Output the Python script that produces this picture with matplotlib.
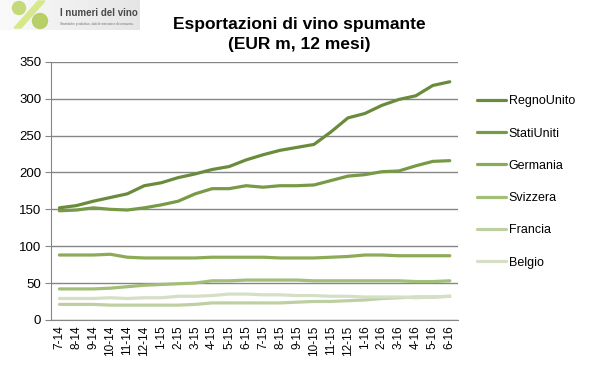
import numpy as np
import matplotlib
matplotlib.use("Agg")
import matplotlib.pyplot as plt
from matplotlib.patches import Circle, Polygon

months = ["7-14", "8-14", "9-14", "10-14", "11-14", "12-14",
          "1-15", "2-15", "3-15", "4-15", "5-15", "6-15",
          "7-15", "8-15", "9-15", "10-15", "11-15", "12-15",
          "1-16", "2-16", "3-16", "4-16", "5-16", "6-16"]

regno_unito = [152, 155, 161, 166, 171, 182, 186, 193, 198, 204, 208, 217,
               224, 230, 234, 238, 255, 274, 280, 291, 299, 304, 318, 323]
stati_uniti = [148, 149, 152, 150, 149, 152, 156, 161, 171, 178, 178, 182,
               180, 182, 182, 183, 189, 195, 197, 201, 202, 209, 215, 216]
germania = [88, 88, 88, 89, 85, 84, 84, 84, 84, 85, 85, 85,
            85, 84, 84, 84, 85, 86, 88, 88, 87, 87, 87, 87]
svizzera = [42, 42, 42, 43, 45, 47, 48, 49, 50, 53, 53, 54,
            54, 54, 54, 53, 53, 53, 53, 53, 53, 52, 52, 53]
francia = [21, 21, 21, 20, 20, 20, 20, 20, 21, 23, 23, 23,
           23, 23, 24, 25, 25, 26, 27, 29, 30, 31, 31, 32]
belgio = [29, 29, 29, 30, 29, 30, 30, 32, 32, 33, 35, 35,
          34, 34, 33, 33, 32, 32, 31, 31, 31, 30, 31, 32]

series = [("RegnoUnito", regno_unito, "#6b8b3c"),
          ("StatiUniti", stati_uniti, "#789a47"),
          ("Germania", germania, "#8dab57"),
          ("Svizzera", svizzera, "#a3be78"),
          ("Francia", francia, "#bed0a2"),
          ("Belgio", belgio, "#d4dfc5")]

plt.rcParams['font.family'] = ['Liberation Sans', 'DejaVu Sans']

fig = plt.figure(figsize=(5.99, 3.75), dpi=100)
ax = fig.add_axes([0.085, 0.147, 0.68, 0.688])

x = np.arange(len(months))
for name, vals, col in series:
    ax.plot(x, vals, color=col, lw=2.3, label=name, solid_capstyle='round')

ax.set_xlim(-0.5, len(months) - 0.5)
ax.set_ylim(0, 350)
ax.set_yticks(range(0, 351, 50))
ax.set_xticks(x)
ax.set_xticklabels(months, rotation=90, fontsize=8.5)
ax.tick_params(axis='y', labelsize=9.5, length=4, color='#868686', pad=3)
ax.tick_params(axis='x', length=0, pad=4)
ax.grid(axis='y', color='#868686', lw=1)
ax.set_axisbelow(True)
for s in ['top', 'right']:
    ax.spines[s].set_visible(False)
for s in ['left', 'bottom']:
    ax.spines[s].set_color('#868686')

leg = ax.legend(loc='upper left', bbox_to_anchor=(1.035, 0.89), frameon=False,
                fontsize=9, handlelength=2.3, handletextpad=0.2,
                labelspacing=1.62, borderaxespad=0)

fig.text(0.5, 0.908, "Esportazioni di vino spumante\n(EUR m, 12 mesi)",
         ha='center', va='center', fontsize=12.5, fontweight='bold',
         linespacing=1.5)

# logo top left, drawn in pixel-like units
lax = fig.add_axes([0.0, 1 - 30 / 375, 140 / 599, 30 / 375])
grad = np.linspace(0.98, 0.9, 100).reshape(1, -1)
lax.imshow(np.dstack([grad, grad, grad]), extent=[0, 140, 0, 30], aspect='auto')
lax.add_patch(Polygon([[14, 2], [21, 2], [45, 29], [38, 29]], color='#d6e88c'))
lax.add_patch(Circle((19, 22), 6.5, color='#c6d97a'))
lax.add_patch(Circle((40, 9), 7.5, color='#b8cf68'))
lax.text(60, 17, "I numeri del vino", fontsize=7, color='#4a4a4a',
         fontweight='bold', va='center')
lax.text(60, 6.5, "Statistiche produttive, dati di mercato e di consumo.",
         fontsize=2.3, color='#707070', va='center')
lax.set_xlim(0, 140)
lax.set_ylim(0, 30)
lax.axis('off')

fig.savefig("out.png", dpi=100)
